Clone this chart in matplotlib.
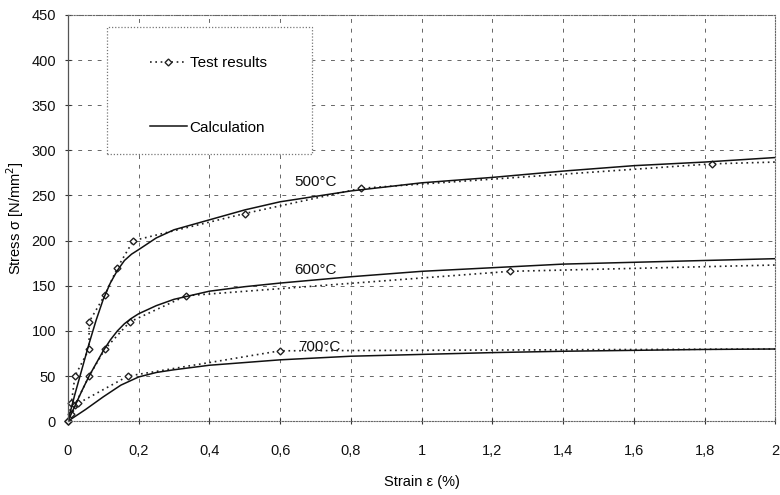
import matplotlib
matplotlib.use("Agg")
import matplotlib.pyplot as plt
from matplotlib.patches import Rectangle
from matplotlib.ticker import FuncFormatter

plt.rcParams['font.family'] = ['Liberation Sans', 'DejaVu Sans']

# test results (dotted, diamond markers); last point at x=2 has no marker
test_x_500 = [0, 0.01, 0.02, 0.06, 0.06, 0.105, 0.14, 0.185, 0.5, 0.83, 1.82, 2.0]
test_y_500 = [0, 20, 50, 80, 110, 140, 170, 200, 230, 258, 285, 287]
test_x_600 = [0, 0.02, 0.06, 0.105, 0.175, 0.335, 1.25, 2.0]
test_y_600 = [0, 18, 50, 80, 110, 139, 166, 173]
test_x_700 = [0, 0.01, 0.03, 0.17, 0.6, 2.0]
test_y_700 = [0, 8, 20, 50, 78, 80]

# calculation (solid)
calc_x = [0, 0.02, 0.04, 0.06, 0.08, 0.1, 0.12, 0.14, 0.16, 0.18, 0.2, 0.25,
          0.3, 0.4, 0.5, 0.6, 0.8, 1.0, 1.2, 1.4, 1.6, 1.8, 2.0]
calc_y_500 = [0, 30, 58, 86, 112, 135, 153, 167, 178, 185, 190, 203,
              212, 223, 234, 243, 255, 264, 270, 277, 283, 287, 292]
calc_y_600 = [0, 17, 34, 50, 64, 78, 90, 100, 108, 114, 119, 128,
              135, 144, 149, 153, 160, 166, 170, 174, 176, 178, 180]
calc_x_700 = [0, 0.05, 0.1, 0.15, 0.2, 0.25, 0.3, 0.4, 0.6, 0.8, 1.0, 1.2, 1.4, 1.6, 1.8, 2.0]
calc_y_700 = [0, 13, 27, 40, 49, 54, 57, 62, 68, 72, 74, 76, 77.5, 78.5, 79.5, 80]

temp_labels = ['500°C', '600°C', '700°C']
label_pos = [(0.70, 265), (0.70, 168), (0.71, 82)]

fig = plt.figure(figsize=(7.8, 4.95), dpi=100)
ax = fig.add_axes([0.087, 0.149, 0.907, 0.821])

mk = dict(linestyle=(0, (1, 2.2)), color='#222222', linewidth=1.2, marker='D',
          markersize=3.5, markerfacecolor='white', markeredgecolor='#222222',
          markeredgewidth=1.0)
for tx, ty in [(test_x_500, test_y_500), (test_x_600, test_y_600), (test_x_700, test_y_700)]:
    ax.plot(tx, ty, markevery=slice(0, len(tx) - 1), clip_on=False, **mk)

for cy, cx in [(calc_y_500, calc_x), (calc_y_600, calc_x), (calc_y_700, calc_x_700)]:
    ax.plot(cx, cy, color='#111111', linewidth=1.1)

for lab, (lx, ly) in zip(temp_labels, label_pos):
    ax.text(lx, ly, lab, fontsize=11, ha='center', va='center', color='#111111')

# legend: frameless entries plus a dotted box
ax.add_patch(Rectangle((0.055, 0.658), 0.29, 0.312, transform=ax.transAxes,
                       facecolor='white', edgecolor='#777777',
                       linestyle=(0, (1, 1.5)), linewidth=0.9, zorder=4))
leg_h1, = ax.plot([], [], **mk)
leg_h2, = ax.plot([], [], color='#111111', linewidth=1.1)
leg = ax.legend([leg_h1, leg_h2], ['Test results', 'Calculation'],
                loc='upper left', bbox_to_anchor=(0.116, 0.898),
                labelspacing=3.3, handlelength=2.4, handletextpad=0.2,
                fontsize=11, frameon=False, borderpad=0, borderaxespad=0)
leg.set_zorder(5)

ax.set_xlim(0, 2)
ax.set_ylim(0, 450)
ax.set_xticks([0, 0.2, 0.4, 0.6, 0.8, 1.0, 1.2, 1.4, 1.6, 1.8, 2.0])
ax.set_yticks(range(0, 451, 50))
ax.xaxis.set_major_formatter(FuncFormatter(lambda v, p: ('%g' % round(v, 1)).replace('.', ',')))
ax.tick_params(direction='inout', length=5, width=0.8, colors='#333333',
               labelsize=10.5, labelcolor='#111111')
ax.tick_params(axis='x', pad=14)
ax.tick_params(axis='y', pad=6)
ax.grid(True, color='#666666', linestyle=(0, (4, 6)), linewidth=0.7)
for side in ['top', 'right', 'bottom']:
    ax.spines[side].set_linestyle((0, (1, 1.5)))
    ax.spines[side].set_color('#666666')
    ax.spines[side].set_linewidth(0.8)
ax.spines['left'].set_color('#555555')
ax.spines['left'].set_linewidth(0.9)

ax.set_xlabel('Strain ε (%)', fontsize=10.5, labelpad=12)
ax.set_ylabel('Stress σ [N/mm$^2$]', fontsize=10.5, labelpad=4)

fig.savefig('out.png', dpi=100)
